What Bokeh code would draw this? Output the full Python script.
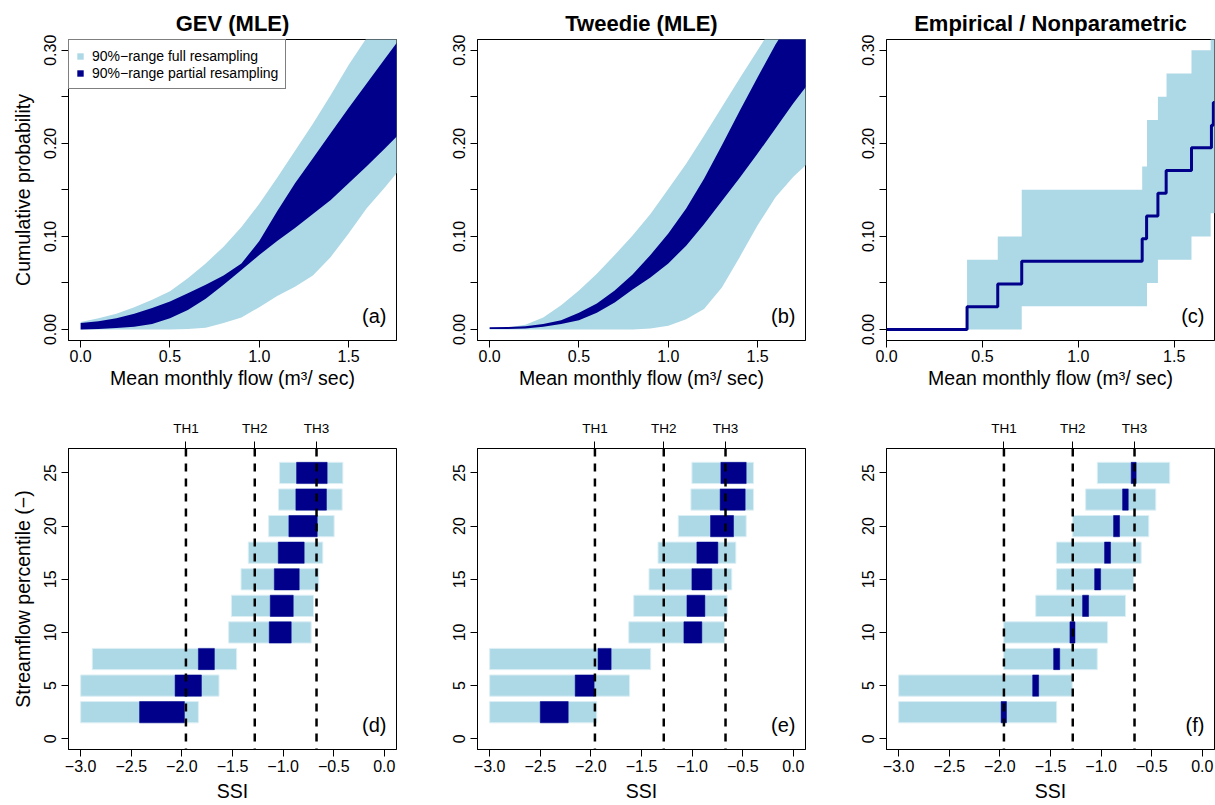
from bokeh.plotting import figure
from bokeh.layouts import column, row
from bokeh.models import (Range1d, FixedTicker, LinearAxis, Span, Label,
                          Legend, LegendItem, Title)
from bokeh.embed import file_html
from bokeh.resources import INLINE

FONT = "Liberation Sans"
LIGHT = "#ADD8E6"
DARK = "#00008B"

# ---- cumulative distribution of mean monthly flow (top row) ----
flow = [0.0, 0.1, 0.2, 0.3, 0.4, 0.5, 0.6, 0.7, 0.8, 0.9,
        1.0, 1.1, 1.2, 1.3, 1.4, 1.5, 1.6, 1.7, 1.8]

gev_full_lo = [0.0, 0.0, 0.0, 0.0, 0.0, 0.0, 0.0005, 0.002, 0.007, 0.013,
               0.024, 0.036, 0.046, 0.058, 0.078, 0.103, 0.130, 0.152, 0.175]
gev_full_hi = [0.008, 0.012, 0.017, 0.024, 0.032, 0.041, 0.055, 0.071, 0.089, 0.110,
               0.135, 0.163, 0.192, 0.221, 0.252, 0.284, 0.313, 0.340, 0.365]
gev_part_lo = [0.0, 0.0005, 0.0015, 0.003, 0.006, 0.012, 0.021, 0.033, 0.048, 0.064,
               0.080, 0.095, 0.109, 0.124, 0.139, 0.157, 0.175, 0.194, 0.213]
gev_part_hi = [0.007, 0.009, 0.012, 0.017, 0.023, 0.030, 0.039, 0.048, 0.058, 0.071,
               0.095, 0.127, 0.157, 0.184, 0.211, 0.238, 0.264, 0.290, 0.316]

tw_full_lo = [0.0, 0.0, 0.0, 0.0, 0.0, 0.0, 0.0, 0.0, 0.0, 0.001,
              0.004, 0.011, 0.022, 0.045, 0.078, 0.112, 0.142, 0.164, 0.182]
tw_full_hi = [0.002, 0.002, 0.005, 0.013, 0.026, 0.042, 0.060, 0.080, 0.101, 0.124,
              0.151, 0.178, 0.208, 0.239, 0.270, 0.300, 0.330, 0.358, 0.385]
tw_part_lo = [0.0005, 0.0006, 0.001, 0.003, 0.006, 0.010, 0.018, 0.029, 0.043, 0.056,
              0.071, 0.090, 0.113, 0.138, 0.163, 0.189, 0.216, 0.243, 0.268]
tw_part_hi = [0.0025, 0.0027, 0.0035, 0.006, 0.010, 0.018, 0.028, 0.042, 0.059, 0.080,
              0.103, 0.130, 0.162, 0.198, 0.235, 0.271, 0.306, 0.337, 0.365]

emp_flow = [0.0, 0.42, 0.58, 0.705, 1.333, 1.356, 1.415, 1.458, 1.590, 1.694, 1.704, 1.72]
emp_cdf = [0.0, 0.0244, 0.0488, 0.0732, 0.0976, 0.1220, 0.1463, 0.1707, 0.1951, 0.2195,
           0.2439, 0.2439]
emp_band_flow = [0.42, 0.58, 0.705, 1.333, 1.358, 1.415, 1.46, 1.59, 1.69, 1.72]
emp_band_lo = [0.0, 0.0, 0.025, 0.025, 0.05, 0.075, 0.075, 0.10, 0.125, 0.125]
emp_band_hi = [0.075, 0.10, 0.15, 0.175, 0.225, 0.25, 0.275, 0.30, 0.35, 0.35]

# ---- SSI ranges per streamflow percentile (bottom row) ----
percentile = [2.5, 5, 7.5, 10, 12.5, 15, 17.5, 20, 22.5, 25]

gev_ssi_full_lo = [-3.0, -3.0, -2.885, -1.538, -1.511, -1.416, -1.344, -1.143, -1.045, -1.035]
gev_ssi_full_hi = [-1.837, -1.633, -1.459, -0.723, -0.700, -0.647, -0.608, -0.496, -0.417, -0.410]
gev_ssi_part_lo = [-2.418, -2.067, -1.837, -1.137, -1.127, -1.087, -1.048, -0.943, -0.874, -0.867]
gev_ssi_part_hi = [-1.975, -1.807, -1.679, -0.920, -0.900, -0.841, -0.792, -0.663, -0.572, -0.565]

tw_ssi_full_lo = [-3.0, -3.0, -3.0, -1.626, -1.577, -1.426, -1.337, -1.137, -1.012, -1.002]
tw_ssi_full_hi = [-1.942, -1.617, -1.409, -0.680, -0.654, -0.608, -0.568, -0.466, -0.394, -0.394]
tw_ssi_part_lo = [-2.500, -2.155, -1.929, -1.081, -1.051, -1.002, -0.953, -0.818, -0.723, -0.716]
tw_ssi_part_hi = [-2.224, -1.968, -1.800, -0.904, -0.874, -0.805, -0.746, -0.591, -0.476, -0.466]

emp_ssi_full_lo = [-3.0, -3.0, -1.962, -1.962, -1.646, -1.442, -1.442, -1.281, -1.153, -1.038]
emp_ssi_full_hi = [-1.439, -1.285, -1.038, -0.936, -0.759, -0.680, -0.604, -0.529, -0.460, -0.322]
emp_ssi_part_lo = [-1.988, -1.676, -1.469, -1.308, -1.183, -1.064, -0.966, -0.877, -0.788, -0.703]
emp_ssi_part_hi = [-1.935, -1.617, -1.409, -1.258, -1.124, -1.005, -0.907, -0.818, -0.732, -0.654]

thresholds = [-1.96, -1.28, -0.67]
threshold_names = ["TH1", "TH2", "TH3"]

flow_ticks = [0.0, 0.5, 1.0, 1.5]
flow_tick_labels = ["0.0", "0.5", "1.0", "1.5"]
prob_ticks = [0.0, 0.05, 0.1, 0.15, 0.2, 0.25, 0.3]
prob_tick_labels = ["0.00", "", "0.10", "", "0.20", "", "0.30"]
ssi_ticks = [-3.0, -2.5, -2.0, -1.5, -1.0, -0.5, 0.0]
ssi_tick_labels = ["\u22123.0", "\u22122.5", "\u22122.0", "\u22121.5", "\u22121.0", "\u22120.5", "0.0"]
pct_ticks = [0, 5, 10, 15, 20, 25]

FLOW_LABEL = "Mean monthly flow (m\u00b3/ sec)"

# column geometry: (left border, right border) around a 328 px frame
COLS = [(68, 14), (67, 15), (66, 1)]
FRAME_W, FRAME_H = 328, 301


def style_axis(ax, label_standoff, axis_standoff):
    ax.major_tick_out = 7
    ax.major_tick_in = 0
    ax.minor_tick_out = 0
    ax.minor_tick_in = 0
    ax.axis_line_color = "black"
    ax.major_tick_line_color = "black"
    ax.major_label_text_font = FONT
    ax.major_label_text_font_size = "16px"
    ax.major_label_text_color = "black"
    ax.major_label_standoff = label_standoff
    ax.axis_label_text_font = FONT
    ax.axis_label_text_font_size = "19.5px"
    ax.axis_label_text_font_style = "normal"
    ax.axis_label_text_color = "black"
    ax.axis_label_standoff = axis_standoff


def make_fig(col, top, bottom, x_range, y_range, title=None):
    left, right = COLS[col]
    kw = {}
    if title is not None:
        kw["title"] = Title(text=title, align="center", text_font=FONT,
                            text_font_size="22px", text_font_style="bold",
                            text_color="black", standoff=8)
    p = figure(frame_width=FRAME_W, frame_height=FRAME_H,
               min_border_left=left, min_border_right=right,
               min_border_top=top, min_border_bottom=bottom,
               x_range=Range1d(*x_range), y_range=Range1d(*y_range),
               output_backend="svg", toolbar_location=None, **kw)
    p.grid.visible = False
    p.outline_line_color = "black"
    p.outline_line_width = 1
    p.outline_line_alpha = 1
    p.background_fill_color = "white"
    p.border_fill_color = "white"
    return p


def panel_letter(p, x, y, text):
    p.add_layout(Label(x=x, y=y, x_offset=-10, y_offset=14, text=text,
                       text_align="right", text_baseline="bottom",
                       text_font=FONT, text_font_size="20px", text_color="black"))


def top_panel(col, title, x_range, ylabel):
    p = make_fig(col, 39, 60, x_range, (-0.0118, 0.3115), title)
    xa = p.xaxis[0]
    style_axis(xa, 2, 2)
    xa.ticker = FixedTicker(ticks=flow_ticks)
    xa.major_label_overrides = dict(zip(flow_ticks, flow_tick_labels))
    xa.axis_label = FLOW_LABEL
    ya = p.yaxis[0]
    style_axis(ya, 5, 8)
    ya.ticker = FixedTicker(ticks=prob_ticks)
    ya.major_label_overrides = dict(zip(prob_ticks, prob_tick_labels))
    ya.major_label_orientation = "vertical"
    if ylabel:
        ya.axis_label = ylabel
    return p


def bottom_panel(col, full_lo, full_hi, part_lo, part_hi, letter, ylabel):
    p = make_fig(col, 48, 56, (-3.12, 0.12), (-1.01, 27.3))
    bar_height = 2.0
    p.hbar(y=percentile, left=full_lo, right=full_hi, height=bar_height,
           fill_color=LIGHT, line_color="#DCEFF5", line_width=1)
    p.hbar(y=percentile, left=part_lo, right=part_hi, height=bar_height,
           fill_color=DARK, line_color=DARK, line_width=0.5)
    for th in thresholds:
        p.add_layout(Span(location=th, dimension="height", line_color="black",
                          line_width=2.5, line_dash="8 7"))
    xa = p.xaxis[0]
    style_axis(xa, 3, 5)
    xa.ticker = FixedTicker(ticks=ssi_ticks)
    xa.major_label_overrides = dict(zip(ssi_ticks, ssi_tick_labels))
    xa.axis_label = "SSI"
    ya = p.yaxis[0]
    style_axis(ya, 5, 8)
    ya.ticker = FixedTicker(ticks=pct_ticks)
    ya.major_label_orientation = "vertical"
    if ylabel:
        ya.axis_label = ylabel
    top = LinearAxis(ticker=FixedTicker(ticks=thresholds),
                     major_label_overrides=dict(zip(thresholds, threshold_names)))
    style_axis(top, 6, 0)
    top.major_label_text_font_size = "13.5px"
    p.add_layout(top, "above")
    panel_letter(p, 0.12, -1.01, letter)
    return p


# (a) GEV
pa = top_panel(0, "GEV (MLE)", (-0.068, 1.768), "Cumulative probability")
r_full = pa.varea(x=flow, y1=gev_full_lo, y2=gev_full_hi, fill_color=LIGHT)
r_part = pa.varea(x=flow, y1=gev_part_lo, y2=gev_part_hi, fill_color=DARK)
legend = Legend(items=[LegendItem(label="90%\u2212range full resampling", renderers=[r_full]),
                       LegendItem(label="90%\u2212range partial resampling", renderers=[r_part])],
                location="top_left", margin=0, padding=7, spacing=0,
                glyph_width=8, glyph_height=8, label_height=17, label_standoff=8,
                label_text_font=FONT, label_text_font_size="14px",
                label_text_color="black",
                border_line_color="black", border_line_width=1,
                background_fill_color="white", background_fill_alpha=1)
pa.add_layout(legend)
panel_letter(pa, 1.768, -0.0118, "(a)")

# (b) Tweedie
pb = top_panel(1, "Tweedie (MLE)", (-0.068, 1.768), None)
pb.varea(x=flow, y1=tw_full_lo, y2=tw_full_hi, fill_color=LIGHT)
pb.varea(x=flow, y1=tw_part_lo, y2=tw_part_hi, fill_color=DARK)
panel_letter(pb, 1.768, -0.0118, "(b)")

# (c) Empirical
pc = top_panel(2, "Empirical / Nonparametric", (0.0, 1.71), None)
pc.varea_step(x=emp_band_flow, y1=emp_band_lo, y2=emp_band_hi,
              step_mode="after", fill_color=LIGHT)
pc.step(x=emp_flow, y=emp_cdf, mode="after", line_color=DARK, line_width=3)
panel_letter(pc, 1.71, -0.0118, "(c)")

pd_ = bottom_panel(0, gev_ssi_full_lo, gev_ssi_full_hi, gev_ssi_part_lo, gev_ssi_part_hi,
                   "(d)", "Streamflow percentile (\u2212)")
pe = bottom_panel(1, tw_ssi_full_lo, tw_ssi_full_hi, tw_ssi_part_lo, tw_ssi_part_hi,
                  "(e)", None)
pf = bottom_panel(2, emp_ssi_full_lo, emp_ssi_full_hi, emp_ssi_part_lo, emp_ssi_part_hi,
                  "(f)", None)

layout = column(row(pa, pb, pc), row(pd_, pe, pf))
open("out.html", "w").write(file_html(layout, INLINE))
